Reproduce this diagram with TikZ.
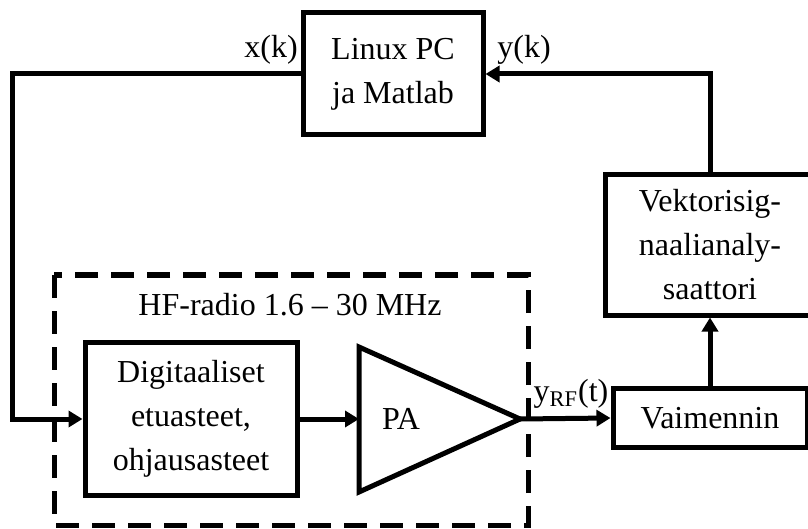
\documentclass[tikz,border=0pt]{standalone}
\usepackage{fontspec}
\setmainfont{Liberation Serif}
\usetikzlibrary{arrows.meta}

\begin{document}
\begin{tikzpicture}[x=0.5pt, y=-0.5pt,
    block/.style={draw, line width=2.5pt, align=center, inner sep=0pt,
      font=\fontsize{16}{22}\selectfont},
    sig/.style={line width=2.5pt, -{Triangle[length=7pt,width=8pt]}},
    lbl/.style={font=\fontsize{16}{19}\selectfont, inner sep=0pt}]
      \useasboundingbox (0,0) rectangle (808,529);

      % HF-radio enclosure
      \draw[line width=2.5pt, dash pattern=on 11.5pt off 6.5pt] (54,275) rectangle (528,525);
      \node[lbl] (hf) at (290,305) {HF-radio 1.6 – 30 MHz};

      % Blocks
      \node[block, minimum width=90pt, minimum height=61pt] (pc) at (393,74) {Linux PC\\ja Matlab};
      \node[block, minimum width=106pt, minimum height=76.5pt] (digi) at (191,419) {Digitaaliset\\etuasteet,\\ohjausasteet};
      \node[block, minimum width=97pt, minimum height=29.5pt] (vaim) at (710,418) {Vaimennin};
      \node[block, minimum width=105pt, minimum height=70pt] (vekt) at (710,245) {Vektorisig-\\naalianaly-\\saattori};

      % Power amplifier
      \coordinate (pain) at (359,419);
      \coordinate (paout) at (520,419);
      \draw[line width=2.5pt, line join=miter] (359,347) -- (paout) -- (359,492) -- cycle;
      \node[lbl] (pa) at (401,419) {PA};

      % Signal path
      \coordinate (loop) at (12,419);
      \draw[sig] (pc.west) -| (loop) -- (digi.west);
      \draw[sig] (digi.east) -- (pain);
      \draw[sig] (paout) -- (vaim.west);
      \draw[sig] (vaim.north) -- (vekt.south);
      \draw[sig] (vekt.north) |- (pc.east);

      % Signal names
      \node[lbl] (xk) at (271,50) {x(k)};
      \node[lbl] (yk) at (524,50) {y(k)};
      \node[lbl] (yrf) at (571,394) {y\textsubscript{RF}(t)};
\end{tikzpicture}
\end{document}
